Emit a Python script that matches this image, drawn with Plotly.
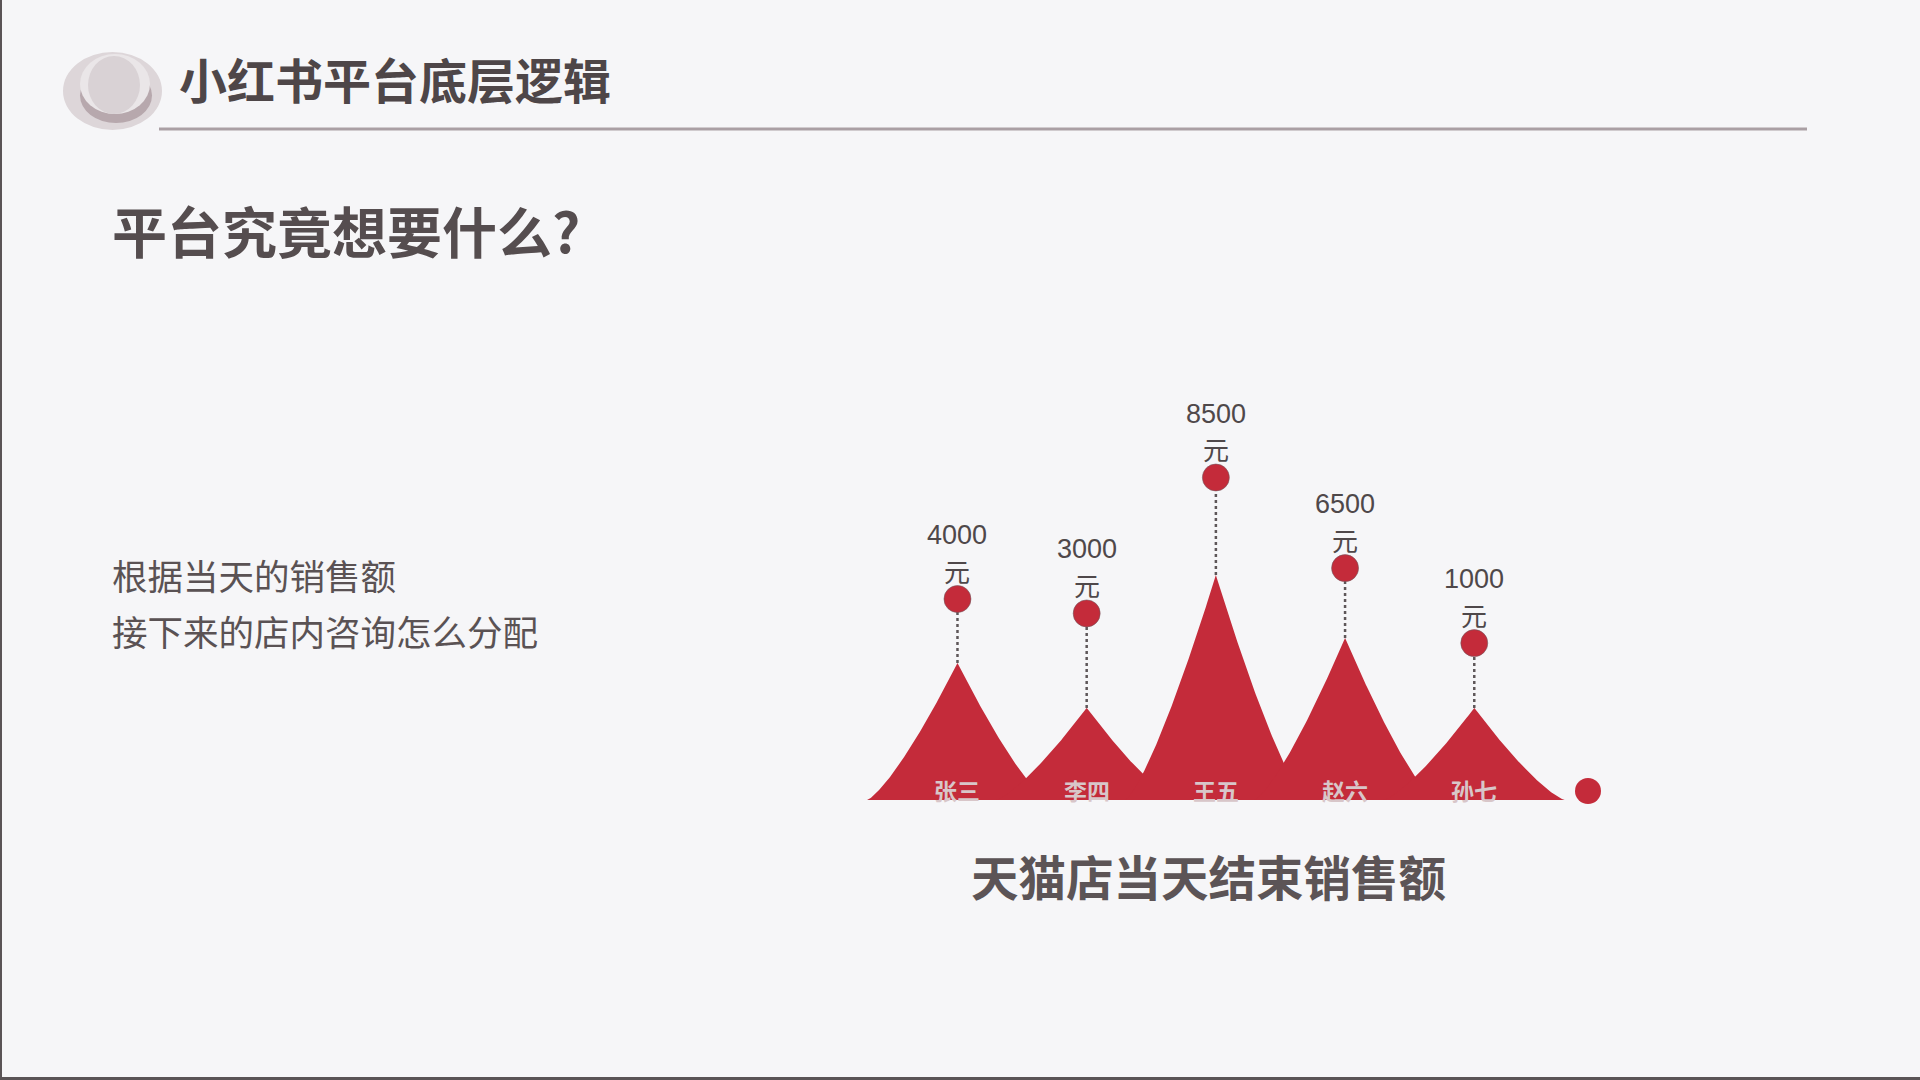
import numpy as np
import plotly.graph_objects as go

# ---------------- data ----------------
names = ["张三", "李四", "王五", "赵六", "孙七"]
sales = [4000, 3000, 8500, 6500, 1000]
unit_label = "元"
# visual heights (arbitrary level units above the baseline)
peak_level = [4.57, 3.07, 7.5, 5.4, 3.07]
pin_level = [6.7, 6.22, 10.75, 7.73, 5.23]

title_text = "小红书平台底层逻辑"
subtitle_text = "平台究竟想要什么?"
body_lines = ["根据当天的销售额", "接下来的店内咨询怎么分配"]
caption_text = "天猫店当天结束销售额"

# ---------------- styles ----------------
W, H = 1920, 1080
BG = "#f6f6f8"
RED = "#c42b3a"
CJK = "Noto Sans CJK SC"
HALF_W = 0.70      # half base width of a mountain, in category units
CONCAVE = 1.3      # curvature of the mountain sides


def X(px):
    return px / W


def Y(py):
    return 1 - py / H


fig = go.Figure()

# mountains (concave-sided peaks)
s = np.linspace(-1, 1, 201)
for i, h in enumerate(peak_level):
    xs = i + s * HALF_W
    ys = h * (1 - np.abs(s)) ** CONCAVE
    fig.add_trace(go.Scatter(
        x=np.concatenate([xs, [xs[0]]]), y=np.concatenate([ys, [ys[0]]]),
        mode="lines", fill="toself", fillcolor=RED,
        line=dict(width=0, color=RED), hoverinfo="skip", showlegend=False))

# dotted pins
for i, (h, p) in enumerate(zip(peak_level, pin_level)):
    fig.add_trace(go.Scatter(
        x=[i, i], y=[h, p], mode="lines",
        line=dict(color="#5e5759", width=2.5, dash="dot"),
        hoverinfo="skip", showlegend=False))

# pin heads
fig.add_trace(go.Scatter(
    x=list(range(len(names))), y=pin_level, mode="markers",
    marker=dict(size=27, color=RED, line=dict(color="rgba(110,90,95,0.55)", width=1)),
    hoverinfo="skip", showlegend=False))

annotations = []
for i, (nm, v, p) in enumerate(zip(names, sales, pin_level)):
    annotations.append(dict(x=i, y=p, xref="x", yref="y", text=str(v),
                            yshift=64, showarrow=False, yanchor="middle",
                            font=dict(family="Liberation Sans, Arial", size=27, color="#4f484a")))
    annotations.append(dict(x=i, y=p, xref="x", yref="y", text=unit_label,
                            yshift=29, showarrow=False, yanchor="middle",
                            font=dict(family=CJK, size=26, color="#4f484a")))
    annotations.append(dict(x=i, y=0, xref="x", yref="y", text=nm,
                            yshift=10, showarrow=False, yanchor="middle",
                            font=dict(family=CJK, size=23, color="#d8c6c9", weight=700)))

annotations += [
    dict(x=X(177), y=Y(78), xref="paper", yref="paper", text=title_text,
         xanchor="left", yanchor="middle", showarrow=False,
         font=dict(family=CJK, size=48, color="#4e4648", weight=700)),
    dict(x=X(110), y=Y(229), xref="paper", yref="paper", text=subtitle_text,
         xanchor="left", yanchor="middle", showarrow=False,
         font=dict(family=CJK, size=55, color="#554d4f", weight=700)),
    dict(x=X(110), y=Y(574), xref="paper", yref="paper", text=body_lines[0],
         xanchor="left", yanchor="middle", showarrow=False,
         font=dict(family=CJK, size=35.5, color="#5a5254")),
    dict(x=X(110), y=Y(630), xref="paper", yref="paper", text=body_lines[1],
         xanchor="left", yanchor="middle", showarrow=False,
         font=dict(family=CJK, size=35.5, color="#5a5254")),
    dict(x=X(1208), y=Y(875), xref="paper", yref="paper", text=caption_text,
         xanchor="center", yanchor="middle", showarrow=False,
         font=dict(family=CJK, size=47.5, color="#5c5456", weight=700)),
]

shapes = [
    # frame edges
    dict(type="rect", xref="paper", yref="paper", x0=0, x1=X(2), y0=0, y1=1,
         fillcolor="#5a5456", line=dict(width=0)),
    dict(type="rect", xref="paper", yref="paper", x0=0, x1=1, y0=0, y1=3 / H,
         fillcolor="#5a5456", line=dict(width=0)),
    # header rule
    dict(type="line", xref="paper", yref="paper", x0=X(159), x1=X(1807), y0=Y(129), y1=Y(129),
         line=dict(color="#aa9fa4", width=3)),
    # logo
    dict(type="circle", xref="paper", yref="paper", x0=X(63), x1=X(162), y0=Y(130), y1=Y(52),
         fillcolor="#ddd6d9", line=dict(width=0)),
    dict(type="circle", xref="paper", yref="paper", x0=X(80), x1=X(152), y0=Y(123), y1=Y(68),
         fillcolor="#b7a8ad", line=dict(width=0)),
    dict(type="circle", xref="paper", yref="paper", x0=X(80), x1=X(150), y0=Y(114), y1=Y(54),
         fillcolor="#eae6e8", line=dict(width=0)),
    dict(type="circle", xref="paper", yref="paper", x0=X(88), x1=X(140), y0=Y(114), y1=Y(56),
         fillcolor="#d9d2d5", line=dict(width=0)),
    # end marker on the baseline
    dict(type="circle", xref="paper", yref="paper", x0=X(1575), x1=X(1601), y0=Y(804), y1=Y(778),
         fillcolor=RED, line=dict(width=0)),
]

# axis scaling: category i at px 1215.9 + 129.2*(i-2); level unit = 30 px, baseline at y=800 px
fig.update_layout(
    width=W, height=H, autosize=False,
    margin=dict(l=0, r=0, t=0, b=0),
    paper_bgcolor=BG, plot_bgcolor=BG,
    xaxis=dict(range=[-7.411, 7.450], visible=False, showgrid=False, zeroline=False, fixedrange=True),
    yaxis=dict(range=[-9.333, 26.667], visible=False, showgrid=False, zeroline=False, fixedrange=True),
    annotations=annotations, shapes=shapes, showlegend=False,
)

fig.write_html("out.html", config={"displayModeBar": False})
